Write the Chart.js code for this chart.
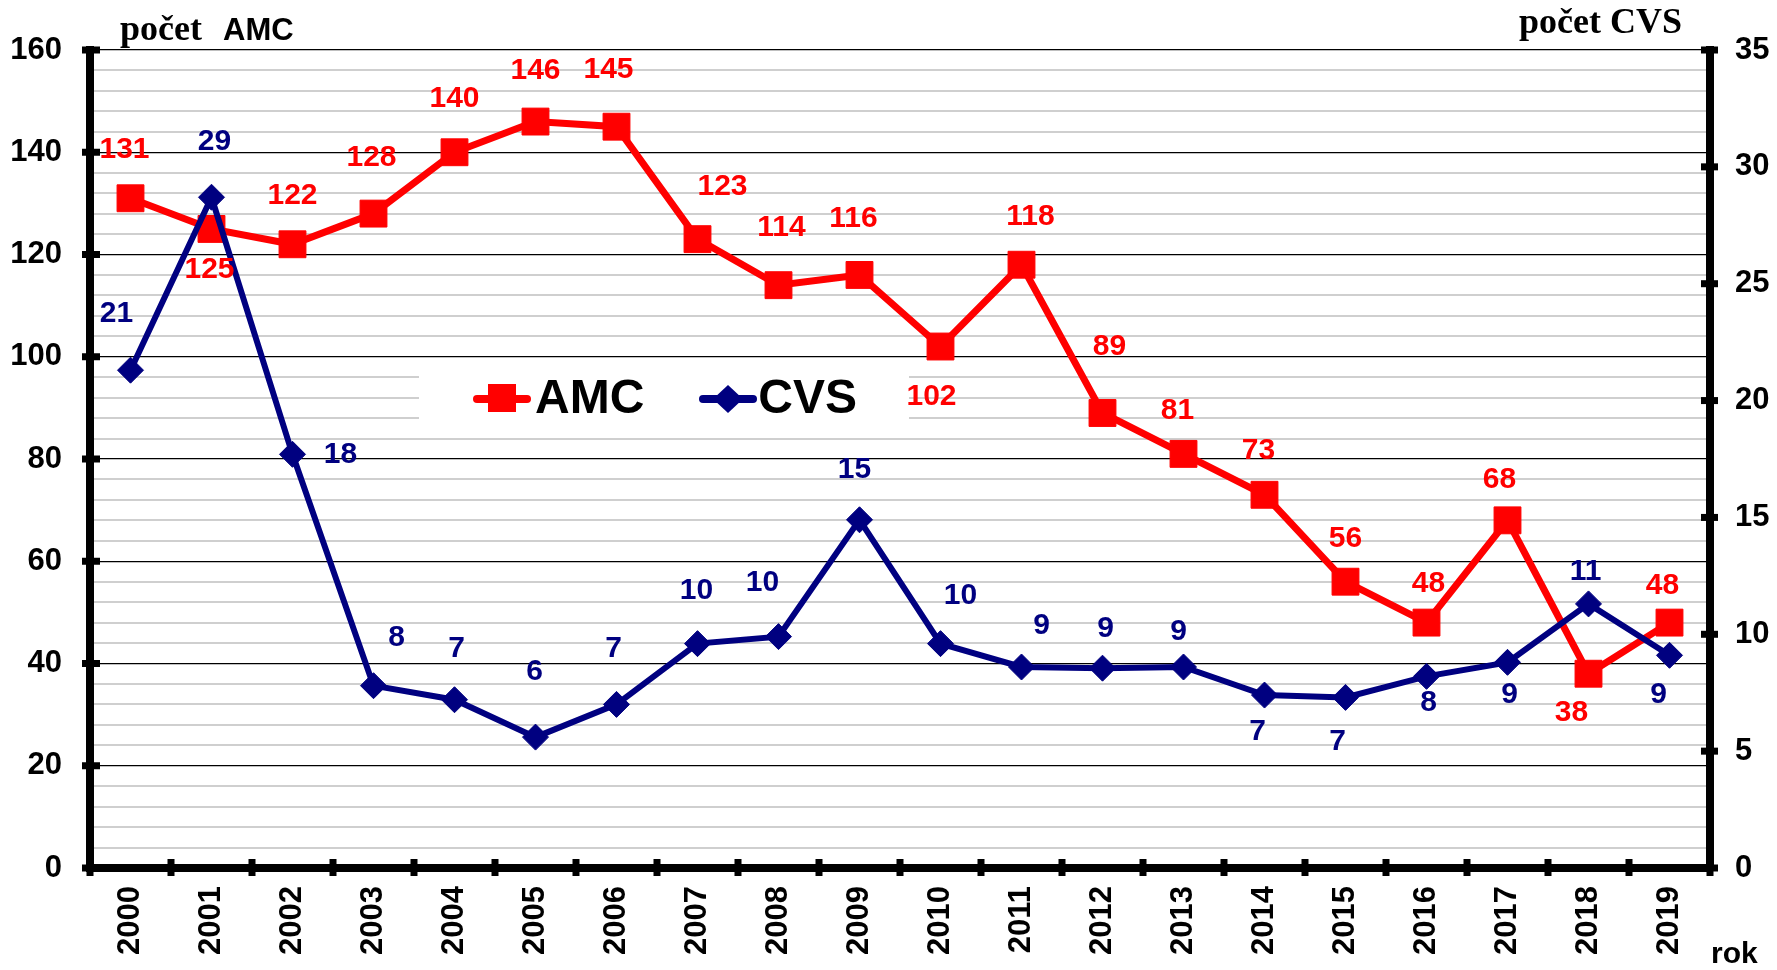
<!DOCTYPE html>
<html>
<head>
<meta charset="utf-8">
<title>AMC a CVS 2000-2019</title>
<script src="https://cdn.jsdelivr.net/npm/chart.js@4.4.1/dist/chart.umd.min.js"></script>
<style>
	body { margin: 0; background: #fff; }
	#wrap { width: 1777px; height: 970px; position: relative; }
</style>
</head>
<body>
<div id="wrap"><canvas id="amcChart"></canvas></div>
<script>
// data
var years = ['2000','2001','2002','2003','2004','2005','2006','2007','2008','2009',
	'2010','2011','2012','2013','2014','2015','2016','2017','2018','2019'];
var amcValues = [131,125,122,128,140,146,145,123,114,116,102,118,89,81,73,56,48,68,38,48];
var cvsValues = [21.3,28.7,17.7,7.8,7.2,5.6,7.0,9.6,9.9,14.9,9.6,8.6,8.55,8.6,7.4,7.3,8.2,8.8,11.3,9.1];

// where each value label sits relative to its point (px)
var amcLabelDx = [-6,-2,0,-2,0,0,-8,25,3,-6,-9,9,7,-6,-6,0,2,-8,-17,-7];
var amcLabelDy = [-49,41,-49,-56,-54,-51,-57,-52,-57,-56,50,-48,-66,-43,-44,-43,-39,-41,39,-37];
var cvsLabelDx = [-14,3,48,23,2,-1,-3,-1,-16,-5,20,20,3,-5,-7,-8,2,2,-3,-11];
var cvsLabelDy = [-56,-56,0,-48,-51,-65,-56,-53,-54,-50,-48,-41,-39,-35,37,44,26,32,-32,39];

var RED = '#ff0000';
var NAVY = '#000080';
var SANS = '"Liberation Sans", Arial, sans-serif';
var SERIF = '"Liberation Serif", "Times New Roman", serif';

var extras = {
	id: 'extras',
	beforeDatasetsDraw: function(chart){
		// legend box sits over the grid inside the plot
		var ctx = chart.ctx;
		ctx.save();
		ctx.fillStyle = '#fff';
		ctx.fillRect(419, 358, 490, 78);
		ctx.lineCap = 'round';
		ctx.lineWidth = 8;
		ctx.strokeStyle = RED;
		ctx.beginPath(); ctx.moveTo(477, 399); ctx.lineTo(527, 399); ctx.stroke();
		ctx.fillStyle = RED;
		ctx.fillRect(488, 384, 28, 28);
		ctx.strokeStyle = NAVY;
		ctx.beginPath(); ctx.moveTo(703, 399); ctx.lineTo(753, 399); ctx.stroke();
		ctx.fillStyle = NAVY;
		ctx.beginPath();
		ctx.moveTo(728, 385); ctx.lineTo(743, 399); ctx.lineTo(728, 413); ctx.lineTo(713, 399);
		ctx.closePath(); ctx.fill();
		ctx.fillStyle = '#000';
		ctx.font = 'bold 48px ' + SANS;
		ctx.textBaseline = 'alphabetic';
		ctx.textAlign = 'left';
		ctx.fillText('AMC', 535, 413);
		ctx.textAlign = 'right';
		ctx.fillText('CVS', 857, 413);
		ctx.restore();
	},
	afterDatasetsDraw: function(chart){
		var ctx = chart.ctx;
		ctx.save();
		ctx.font = 'bold 30px ' + SANS;
		ctx.textAlign = 'center';
		ctx.textBaseline = 'middle';
		var amcMeta = chart.getDatasetMeta(0);
		var cvsMeta = chart.getDatasetMeta(1);
		ctx.fillStyle = RED;
		amcMeta.data.forEach(function(pt, i){
			ctx.fillText(String(amcValues[i]), pt.x + amcLabelDx[i], pt.y + amcLabelDy[i]);
		});
		ctx.fillStyle = NAVY;
		cvsMeta.data.forEach(function(pt, i){
			ctx.fillText(String(Math.round(cvsValues[i])), pt.x + cvsLabelDx[i], pt.y + cvsLabelDy[i]);
		});
		ctx.restore();
	},
	afterDraw: function(chart){
		var ctx = chart.ctx;
		var area = chart.chartArea;
		var x = chart.scales.x, y = chart.scales.y, y1 = chart.scales.y1;
		ctx.save();
		ctx.fillStyle = '#000';
		// tick marks crossing the axes
		for(var v = 0; v <= 160; v += 20){
			var py = y.getPixelForValue(v);
			ctx.fillRect(area.left - 8, py - 3.5, 18, 7);
		}
		for(var w = 0; w <= 35; w += 5){
			var py1 = y1.getPixelForValue(w);
			ctx.fillRect(area.right - 9, py1 - 3.5, 17, 7);
		}
		for(var i = 0; i <= years.length; i++){
			var px;
			if(i == 0) px = area.left;
			else if(i == years.length) px = area.right;
			else px = (x.getPixelForValue(i - 1) + x.getPixelForValue(i)) / 2;
			ctx.fillRect(px - 3.5, area.bottom - 9, 7, 17);
		}
		// axis titles
		ctx.textBaseline = 'alphabetic';
		ctx.textAlign = 'left';
		ctx.font = 'bold 36px ' + SERIF;
		ctx.fillText('počet', 120, 40);
		ctx.font = 'bold 31px ' + SANS;
		ctx.fillText('AMC', 223, 40);
		ctx.font = 'bold 36px ' + SERIF;
		ctx.textAlign = 'right';
		ctx.fillText('počet CVS', 1682, 33);
		ctx.font = 'bold 30px ' + SANS;
		ctx.textAlign = 'left';
		ctx.fillText('rok', 1711, 963);
		ctx.restore();
	}
};

var chart = new Chart(document.getElementById('amcChart'), {
	type: 'line',
	data: {
		labels: years,
		datasets: [
		{
			label: 'AMC',
			data: amcValues,
			yAxisID: 'y',
			borderColor: RED,
			backgroundColor: RED,
			borderWidth: 7,
			pointStyle: 'rect',
			pointRadius: 19,
			pointBorderWidth: 1,
			pointBackgroundColor: RED,
			pointBorderColor: RED,
			tension: 0,
			order: 2
		},
		{
			label: 'CVS',
			data: cvsValues,
			yAxisID: 'y1',
			borderColor: NAVY,
			backgroundColor: NAVY,
			borderWidth: 6,
			pointStyle: 'rectRot',
			pointRadius: 13,
			pointBorderWidth: 1,
			pointBackgroundColor: NAVY,
			pointBorderColor: NAVY,
			tension: 0,
			order: 1
		}
		]
	},
	options: {
		responsive: true,
		maintainAspectRatio: false,
		animation: false,
		layout: { padding: { top: 50, left: 0, right: 0, bottom: 0 } },
		plugins: {
			legend: { display: false },
			tooltip: { enabled: false }
		},
		scales: {
			x: {
				type: 'category',
				offset: true,
				grid: { display: true, drawOnChartArea: false, drawTicks: false, offset: true },
				border: { display: true, color: '#000', width: 8 },
				ticks: {
					minRotation: 90,
					maxRotation: 90,
					autoSkip: false,
					padding: 18,
					color: '#000',
					font: { family: SANS, size: 31, weight: 'bold' }
				},
				afterFit: function(s){ s.height = 102; }
			},
			y: {
				position: 'left',
				min: 0,
				max: 160,
				grid: {
					drawTicks: false,
					color: function(c){ return c.tick && c.tick.value % 20 == 0 ? '#000' : '#cfcfcf'; },
					lineWidth: function(c){ return c.tick && c.tick.value % 20 == 0 ? 1.2 : 2; }
				},
				border: { display: true, color: '#000', width: 8 },
				ticks: {
					stepSize: 4,
					autoSkip: false,
					padding: 28,
					color: '#000',
					font: { family: SANS, size: 31, weight: 'bold' },
					callback: function(v){ return v % 20 == 0 ? v : ''; }
				},
				afterFit: function(s){ s.width = 90; }
			},
			y1: {
				position: 'right',
				min: 0,
				max: 35,
				grid: { drawOnChartArea: false, drawTicks: false },
				border: { display: true, color: '#000', width: 8 },
				ticks: {
					stepSize: 5,
					autoSkip: false,
					padding: 25,
					color: '#000',
					font: { family: SANS, size: 31, weight: 'bold' }
				},
				afterFit: function(s){ s.width = 67; }
			}
		}
	},
	plugins: [extras]
});
</script>
</body>
</html>
